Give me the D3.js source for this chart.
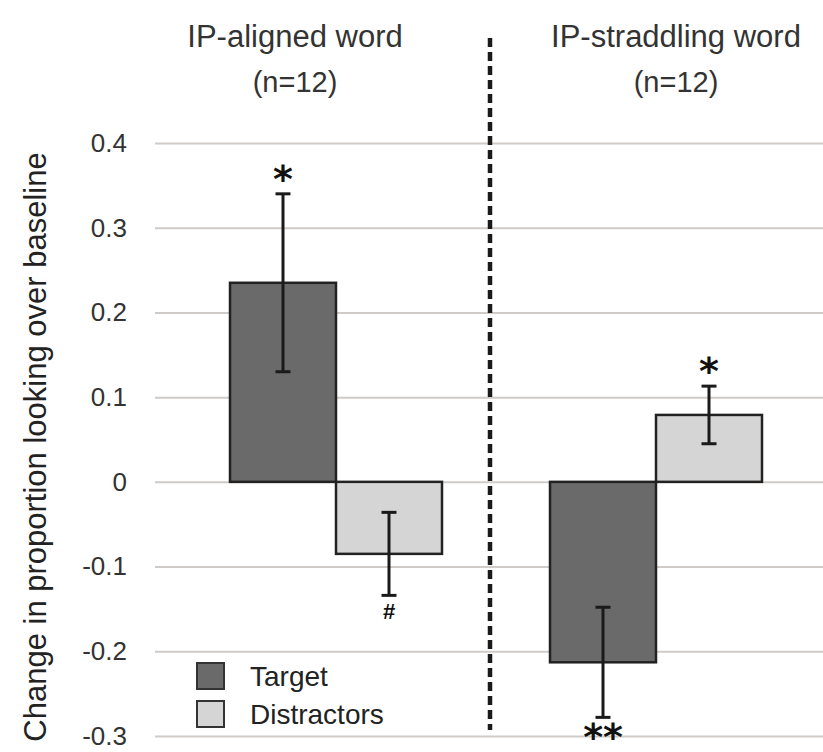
<!DOCTYPE html>
<html>
<head>
<meta charset="utf-8">
<script src="https://cdn.jsdelivr.net/npm/d3@7"></script>
<style>
  html, body { margin: 0; padding: 0; background: #fff; overflow: hidden; }
  svg { display: block; font-family: "Liberation Sans", Arial, Helvetica, sans-serif; }
</style>
</head>
<body>
<svg id="chart" width="823" height="752"></svg>
<script>
// ---- data ----
const groups = ["IP-aligned word", "IP-straddling word"];
const groupN = ["(n=12)", "(n=12)"];
const series = ["Target", "Distractors"];
const targetValues = [0.235, -0.213];
const targetErr = [0.105, 0.065];
const distractorValues = [-0.085, 0.079];
const distractorErr = [0.049, 0.034];
const targetSig = ["*", "**"];
const distractorSig = ["#", "*"];
const yTicks = [0.4, 0.3, 0.2, 0.1, 0, -0.1, -0.2, -0.3];
const yTickLabels = ["0.4", "0.3", "0.2", "0.1", "0", "-0.1", "-0.2", "-0.3"];
const yLabel = "Change in proportion looking over baseline";

const colors = { "Target": "#6a6a6a", "Distractors": "#d5d5d5" };

// ---- build rows ----
const rows = [];
groups.forEach((g, i) => {
  rows.push({ group: g, series: "Target", value: targetValues[i], err: targetErr[i], sig: targetSig[i] });
  rows.push({ group: g, series: "Distractors", value: distractorValues[i], err: distractorErr[i], sig: distractorSig[i] });
});

const svg = d3.select("#chart");

const x0 = d3.scaleBand().domain(groups).range([176, 816]).paddingInner(0.3375).paddingOuter(0.16875);
const x1 = d3.scaleBand().domain(series).range([0, x0.bandwidth()]).padding(0);
const y = d3.scaleLinear().domain([-0.3, 0.4]).range([736, 143]);

const gridLeft = 155, gridRight = 823;

// gridlines + tick labels via axis
const axis = d3.axisLeft(y)
  .tickValues(yTicks)
  .tickFormat((d, i) => yTickLabels[i])
  .tickSize(-(gridRight - gridLeft))
  .tickPadding(28);

const gAxis = svg.append("g").attr("transform", `translate(${gridLeft},0)`).call(axis);
gAxis.select(".domain").remove();
gAxis.selectAll(".tick line").attr("stroke", "#d0cbc7").attr("stroke-width", 2);
gAxis.selectAll(".tick text")
  .attr("fill", "#333")
  .style("font-size", "26px")
  .style("font-family", "'Liberation Sans', Arial, sans-serif");

// y label
svg.append("text")
  .attr("transform", `translate(46, 447) rotate(-90)`)
  .attr("text-anchor", "middle")
  .attr("fill", "#222")
  .style("font-size", "31px")
  .text(yLabel);

// headers
const headerCenters = [x0(groups[0]) + x0.bandwidth() / 2 - 41, x0(groups[1]) + x0.bandwidth() / 2 + 20];
groups.forEach((g, i) => {
  svg.append("text").attr("x", headerCenters[i]).attr("y", 47)
    .attr("text-anchor", "middle").attr("fill", "#333").style("font-size", "31px").text(g);
  svg.append("text").attr("x", headerCenters[i]).attr("y", 92)
    .attr("text-anchor", "middle").attr("fill", "#333").style("font-size", "29px").text(groupN[i]);
});

// dashed divider between groups
const divX = (x0(groups[0]) + x0.bandwidth() + x0(groups[1])) / 2 - 6;
svg.append("line")
  .attr("x1", divX).attr("x2", divX)
  .attr("y1", 38).attr("y2", 730)
  .attr("stroke", "#1a1a1a").attr("stroke-width", 4.5)
  .attr("stroke-dasharray", "9,5");

// bars
const bars = svg.append("g");
bars.selectAll("rect").data(rows).join("rect")
  .attr("x", d => x0(d.group) + x1(d.series))
  .attr("width", x1.bandwidth())
  .attr("y", d => y(Math.max(0, d.value)))
  .attr("height", d => Math.abs(y(d.value) - y(0)))
  .attr("fill", d => colors[d.series])
  .attr("stroke", "#222").attr("stroke-width", 2.5);

// error bars
const eb = svg.append("g").attr("stroke", "#1a1a1a").attr("stroke-width", 3);
rows.forEach(d => {
  const cx = x0(d.group) + x1(d.series) + x1.bandwidth() / 2;
  const hi = y(d.value + d.err), lo = y(d.value - d.err);
  eb.append("line").attr("x1", cx).attr("x2", cx).attr("y1", hi).attr("y2", lo);
  eb.append("line").attr("x1", cx - 7.5).attr("x2", cx + 7.5).attr("y1", hi).attr("y2", hi);
  eb.append("line").attr("x1", cx - 7.5).attr("x2", cx + 7.5).attr("y1", lo).attr("y2", lo);
});

// significance markers
rows.forEach(d => {
  const cx = x0(d.group) + x1(d.series) + x1.bandwidth() / 2;
  const t = svg.append("text").attr("x", cx).attr("text-anchor", "middle").attr("fill", "#111").text(d.sig);
  if (d.sig === "#") {
    t.attr("y", y(d.value - d.err) + 24).style("font-size", "22px").style("font-weight", "bold");
  } else {
    t.style("font-family", "'DejaVu Sans', sans-serif").style("font-size", "38px").style("font-weight", "bold");
    if (d.value >= 0) t.attr("y", y(d.value + d.err) - 2);
    else t.attr("y", y(d.value - d.err) + 33);
  }
});

// legend
const legend = svg.append("g").attr("transform", "translate(197,663)");
series.forEach((s, i) => {
  const g = legend.append("g").attr("transform", `translate(0, ${i * 38})`);
  g.append("rect").attr("x", 0).attr("y", 0).attr("width", 27).attr("height", 26)
    .attr("fill", colors[s]).attr("stroke", "#333").attr("stroke-width", 2);
  g.append("text").attr("x", 53).attr("y", 23).attr("fill", "#222").style("font-size", "28px").text(s);
});
</script>
</body>
</html>
